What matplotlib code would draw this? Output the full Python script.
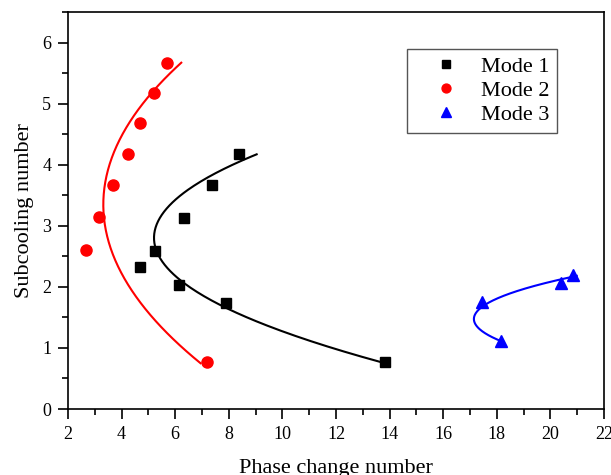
"""
Subcooling number vs phase change number for the three modes
"""

import numpy as np
import matplotlib.pyplot as plt
from matplotlib.ticker import MultipleLocator

plt.rcParams['font.family'] = ['Liberation Serif', 'DejaVu Serif']

# Mode 1 (squares)
m1_x = [4.68, 5.24, 6.13, 6.33, 7.38, 7.88, 8.39, 13.83]
m1_y = [2.32, 2.59, 2.03, 3.13, 3.67, 1.73, 4.17, 0.77]
# Mode 2 (circles)
m2_x = [2.66, 3.17, 3.68, 4.23, 4.70, 5.21, 5.68, 7.19]
m2_y = [2.60, 3.14, 3.66, 4.18, 4.68, 5.17, 5.67, 0.77]
# Mode 3 (triangles)
m3_x = [17.45, 18.15, 20.40, 20.84]
m3_y = [1.75, 1.12, 2.06, 2.20]

# fitted curve ranges (in y)
m1_yrange = (0.77, 4.17)
m2_yrange = (0.75, 5.67)
m3_yrange = (1.10, 2.18)


def fit_curve(xs, ys, yrange):
    # quadratic fit of x as a function of y (sideways parabola)
    coef = np.polyfit(ys, xs, 2)
    yy = np.linspace(yrange[0], yrange[1], 200)
    return np.polyval(coef, yy), yy


fig = plt.figure(figsize=(6.11, 4.75), dpi=100)
ax = fig.add_axes([0.1113, 0.1389, 0.8772, 0.8358])

for xs, ys, yr, col in [(m1_x, m1_y, m1_yrange, 'black'),
                        (m2_x, m2_y, m2_yrange, 'red'),
                        (m3_x, m3_y, m3_yrange, 'blue')]:
    cx, cy = fit_curve(xs, ys, yr)
    ax.plot(cx, cy, color=col, lw=1.5)

ax.plot(m1_x, m1_y, 's', color='black', ms=7, label='Mode 1')
ax.plot(m2_x, m2_y, 'o', color='red', ms=8, label='Mode 2')
ax.plot(m3_x, m3_y, '^', color='blue', ms=9, label='Mode 3')

ax.set_xlim(2, 22)
ax.set_ylim(0, 6.5)
ax.xaxis.set_major_locator(MultipleLocator(2))
ax.xaxis.set_minor_locator(MultipleLocator(1))
ax.yaxis.set_major_locator(MultipleLocator(1))
ax.yaxis.set_minor_locator(MultipleLocator(0.5))
ax.tick_params(which='both', direction='out', top=False, right=False,
               labelsize=13, width=1.2)
ax.tick_params(which='major', length=7, pad=5)
ax.tick_params(which='minor', length=4)
for s in ax.spines.values():
    s.set_linewidth(1.2)

ax.set_xlabel('Phase change number', fontsize=16, labelpad=12)
ax.set_ylabel('Subcooling number', fontsize=16, labelpad=6)

leg = ax.legend(loc='upper left', bbox_to_anchor=(0.633, 0.907), fontsize=16,
                fancybox=False, framealpha=1, edgecolor='#555555',
                handletextpad=0.15, borderpad=0.35, labelspacing=0.15,
                handlelength=2.8, borderaxespad=0, markerscale=0.8)
leg.get_frame().set_linewidth(1.0)

plt.savefig('out.png', dpi=100)
